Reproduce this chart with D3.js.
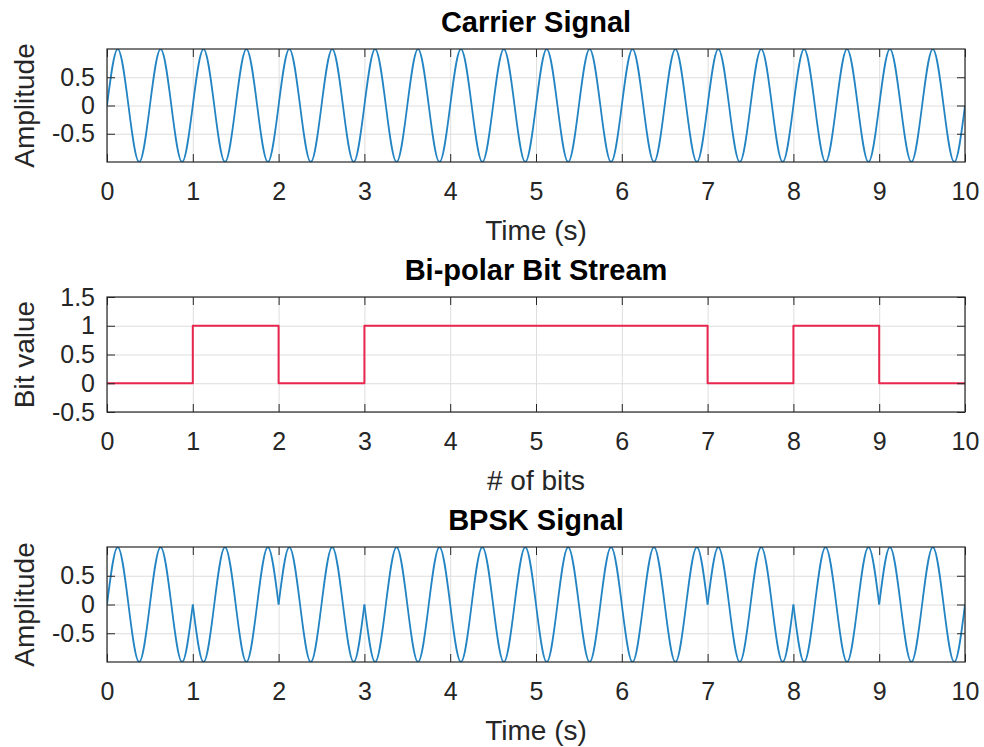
<!DOCTYPE html>
<html>
<head>
<meta charset="utf-8">
<script src="https://cdn.jsdelivr.net/npm/d3@7"></script>
<style>
  body { margin: 0; background: #fff; }
  svg { display: block; font-family: "Liberation Sans", Arial, sans-serif; }
</style>
</head>
<body>
<div class="graph"></div>
<script>
// DATA –––––––––––––––––––––––––––––––––––––––––––––––––––––––––––––––––

// carrier: peaks / troughs (time in s)
var carrierTime = [0, 0.125, 0.375, 0.625, 0.875, 1.125, 1.375, 1.625, 1.875, 2.125, 2.375,
  2.625, 2.875, 3.125, 3.375, 3.625, 3.875, 4.125, 4.375, 4.625, 4.875, 5.125, 5.375,
  5.625, 5.875, 6.125, 6.375, 6.625, 6.875, 7.125, 7.375, 7.625, 7.875, 8.125, 8.375,
  8.625, 8.875, 9.125, 9.375, 9.625, 9.875, 10];
var carrierAmp = [0, 1, -1, 1, -1, 1, -1, 1, -1, 1, -1,
  1, -1, 1, -1, 1, -1, 1, -1, 1, -1, 1, -1,
  1, -1, 1, -1, 1, -1, 1, -1, 1, -1, 1, -1,
  1, -1, 1, -1, 1, -1, 0];

// bit stream (last value repeated so the stairs run to 10)
var bitIndex = [0, 1, 2, 3, 4, 5, 6, 7, 8, 9, 10];
var bitValues = [0, 1, 0, 1, 1, 1, 1, 0, 1, 0, 0];

// bpsk: peaks / troughs plus the notches where the phase flips
var bpskTime = [0, 0.125, 0.375, 0.625, 0.875, 1,
  1.125, 1.375, 1.625, 1.875, 2,
  2.125, 2.375, 2.625, 2.875, 3,
  3.125, 3.375, 3.625, 3.875, 4.125, 4.375, 4.625, 4.875, 5.125, 5.375, 5.625, 5.875,
  6.125, 6.375, 6.625, 6.875, 7,
  7.125, 7.375, 7.625, 7.875, 8,
  8.125, 8.375, 8.625, 8.875, 9,
  9.125, 9.375, 9.625, 9.875, 10];
var bpskAmp = [0, 1, -1, 1, -1, 0,
  -1, 1, -1, 1, 0,
  1, -1, 1, -1, 0,
  -1, 1, -1, 1, -1, 1, -1, 1, -1, 1, -1, 1,
  -1, 1, -1, 1, 0,
  1, -1, 1, -1, 0,
  -1, 1, -1, 1, 0,
  1, -1, 1, -1, 0];

var xTicks = [0, 1, 2, 3, 4, 5, 6, 7, 8, 9, 10];
var ampTicks = [-0.5, 0, 0.5];
var bitTicks = [-0.5, 0, 0.5, 1, 1.5];


// LAYOUT –––––––––––––––––––––––––––––––––––––––––––––––––––––––––––––––

var W = 984, H = 747;
var left = 107, right = 965;
var ink = "#262626";
var blue = "#2384c3";
var red = "#e8264e";

var svg = d3.select("div.graph").append("svg")
    .attr("width", W)
    .attr("height", H);

var x = d3.scaleLinear().domain([0, 10]).range([0, right - left]);

// splits a wave at its notches so the corners stay sharp
var splitAtNotches = function(time, amp) {
  let segs = [[]];
  for (let i = 0; i < time.length; i++) {
    segs[segs.length - 1].push([time[i], amp[i]]);
    if (i > 0 && i < time.length - 1 && amp[i] === 0 && amp[i - 1] * amp[i + 1] > 0) {
      segs.push([[time[i], amp[i]]]);
    }
  }
  return segs;
};

var drawPanel = function(p, idx) {
  let h = p.bottom - p.top;
  let w = right - left;
  let y = d3.scaleLinear().domain(p.yDomain).range([h, 0]);

  let g = svg.append("g")
      .attr("transform", "translate(" + left + "," + p.top + ")");

  g.append("clipPath").attr("id", "clip" + idx)
    .append("rect").attr("width", w).attr("height", h);

  // grid
  g.append("g")
      .attr("transform", "translate(0," + h + ")")
      .call(d3.axisBottom(x).tickValues(xTicks).tickSize(-h).tickFormat(""))
      .call(s => s.select(".domain").remove())
      .selectAll("line").attr("stroke", "#dedede");
  g.append("g")
      .call(d3.axisLeft(y).tickValues(p.yTicks).tickSize(-w).tickFormat(""))
      .call(s => s.select(".domain").remove())
      .selectAll("line").attr("stroke", "#dedede");

  // data
  let line = d3.line()
      .x(function(d) { return x(d[0]); })
      .y(function(d) { return y(d[1]); })
      .curve(p.curve);

  g.append("g").attr("clip-path", "url(#clip" + idx + ")")
    .selectAll("path")
    .data(p.segments)
    .enter().append("path")
      .attr("d", line)
      .attr("fill", "none")
      .attr("stroke", p.color)
      .attr("stroke-width", p.width)
      .attr("stroke-linejoin", "round");

  // axes, ticks pointing inward
  g.append("g")
      .attr("transform", "translate(0," + h + ")")
      .call(d3.axisBottom(x).tickValues(xTicks).tickSizeInner(-8).tickSizeOuter(0)
        .tickPadding(20).tickFormat(d => String(d)));
  g.append("g")
      .call(d3.axisTop(x).tickValues(xTicks).tickSizeInner(-8).tickSizeOuter(0).tickFormat(""));
  g.append("g")
      .call(d3.axisLeft(y).tickValues(p.yTicks).tickSizeInner(-8).tickSizeOuter(0)
        .tickPadding(12).tickFormat(d => String(d)));
  g.append("g")
      .attr("transform", "translate(" + w + ",0)")
      .call(d3.axisRight(y).tickValues(p.yTicks).tickSizeInner(-8).tickSizeOuter(0).tickFormat(""));

  g.selectAll(".domain").remove();
  g.selectAll(".tick line").filter(function() { return this.getAttribute("stroke") !== "#dedede"; })
      .attr("stroke", ink);
  g.selectAll(".tick text")
      .attr("fill", ink)
      .style("font-size", "25px")
      .style("font-family", "'Liberation Sans', Arial, sans-serif");

  g.append("rect")
      .attr("width", w).attr("height", h)
      .attr("fill", "none")
      .attr("stroke", ink)
      .attr("stroke-width", 1.2);

  // texts
  g.append("text")
      .attr("x", w / 2).attr("y", -17)
      .attr("text-anchor", "middle")
      .attr("fill", "#000")
      .style("font-size", "29px").style("font-weight", "bold")
      .text(p.title);
  g.append("text")
      .attr("x", w / 2).attr("y", h + 78)
      .attr("text-anchor", "middle")
      .attr("fill", ink)
      .style("font-size", "28px")
      .text(p.xLabel);
  g.append("text")
      .attr("transform", "translate(" + (34 - left) + "," + (h / 2) + ") rotate(-90)")
      .attr("text-anchor", "middle")
      .attr("fill", ink)
      .style("font-size", "28px")
      .text(p.yLabel);
};

var panels = [
  {top: 49, bottom: 162, title: "Carrier Signal", xLabel: "Time (s)", yLabel: "Amplitude",
   yDomain: [-1, 1], yTicks: ampTicks, color: blue, width: 1.8, curve: d3.curveMonotoneX,
   segments: splitAtNotches(carrierTime, carrierAmp)},
  {top: 297, bottom: 412, title: "Bi-polar Bit Stream", xLabel: "# of bits", yLabel: "Bit value",
   yDomain: [-0.5, 1.5], yTicks: bitTicks, color: red, width: 2, curve: d3.curveStepAfter,
   segments: [bitIndex.map(function(b, i) { return [b, bitValues[i]]; })]},
  {top: 547, bottom: 662, title: "BPSK Signal", xLabel: "Time (s)", yLabel: "Amplitude",
   yDomain: [-1, 1], yTicks: ampTicks, color: blue, width: 1.8, curve: d3.curveMonotoneX,
   segments: splitAtNotches(bpskTime, bpskAmp)}
];

panels.forEach(drawPanel);
</script>
</body>
</html>
